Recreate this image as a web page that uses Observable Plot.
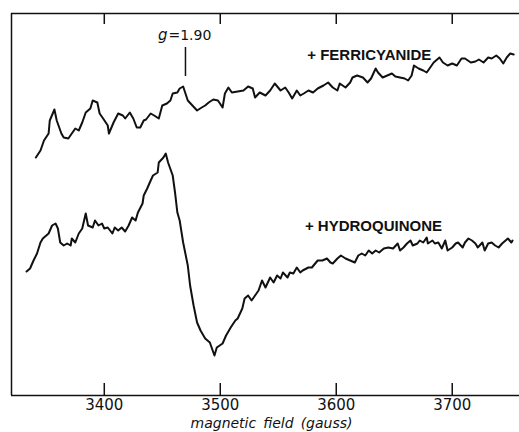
<!DOCTYPE html>
<html>
<head>
<meta charset="utf-8">
<script src="https://cdn.jsdelivr.net/npm/d3@7"></script>
<script src="https://cdn.jsdelivr.net/npm/@observablehq/plot@0.6"></script>
<style>
  body { margin: 0; background: #fff; }
  #chart svg { display: block; background: #fff; }
</style>
</head>
<body>
<div id="chart"></div>
<script>
// EPR derivative spectra (arbitrary signal units) versus magnetic field in gauss
const ferriField = [3341,3345,3348,3352,3353,3357,3359,3363,3365,3369,3372,3375,3378,3381,3384,3388,3390,3394,3396,3399,3403,3404,3408,3412,3416,3418,3422,3425,3428,3431,3434,3436,3440,3443,3447,3450,3454,3457,3459,3463,3465,3468,3472,3476,3480,3484,3487,3490,3494,3498,3502,3504,3507,3510,3515,3520,3524,3528,3530,3534,3539,3543,3547,3552,3556,3559,3562,3566,3569,3572,3576,3580,3584,3589,3593,3597,3601,3603,3608,3612,3614,3618,3623,3627,3630,3634,3636,3640,3644,3648,3651,3655,3659,3662,3665,3667,3671,3675,3678,3681,3684,3689,3692,3696,3700,3704,3708,3711,3716,3720,3723,3727,3731,3734,3738,3741,3744,3747,3750,3753];
const ferriSignal = [238,245,255,262,275,286,275,262,258,257,262,267,265,273,283,287,295,293,282,277,270,262,273,282,280,277,283,277,268,268,275,276,282,280,277,290,292,295,302,303,307,309,295,290,285,288,290,293,296,295,288,302,308,303,304,305,309,307,298,303,300,305,312,305,308,303,297,305,300,302,305,303,307,310,313,308,305,312,308,313,318,320,318,313,317,327,323,318,320,322,319,318,317,315,320,330,327,325,323,328,333,338,333,330,332,330,337,337,333,334,336,333,338,337,340,337,332,338,342,341];

const hydroField = [3333,3336,3339,3342,3345,3347,3352,3355,3358,3360,3362,3365,3368,3371,3372,3375,3378,3381,3384,3386,3390,3392,3395,3398,3400,3403,3407,3409,3412,3415,3418,3421,3424,3427,3429,3433,3434,3437,3440,3442,3446,3447,3451,3453,3455,3459,3461,3463,3465,3468,3472,3474,3477,3480,3483,3487,3491,3495,3497,3502,3505,3509,3513,3515,3519,3521,3524,3527,3530,3533,3536,3539,3543,3546,3549,3552,3554,3558,3560,3563,3566,3569,3571,3576,3579,3584,3588,3592,3595,3597,3601,3604,3608,3612,3616,3619,3622,3625,3628,3631,3634,3637,3641,3645,3649,3653,3655,3658,3661,3664,3666,3670,3672,3675,3678,3679,3683,3685,3688,3691,3694,3696,3700,3703,3705,3709,3711,3714,3717,3720,3722,3726,3728,3731,3734,3737,3740,3743,3746,3748,3751,3752];
const hydroSignal = [124,127,135,142,153,157,162,170,172,167,153,150,152,150,157,153,162,167,182,170,168,175,170,172,167,168,162,168,165,168,164,170,178,175,183,192,200,207,215,220,223,233,238,242,233,220,203,183,175,153,130,110,90,73,65,57,53,40,48,52,60,68,75,77,87,97,100,95,100,105,115,108,118,113,120,117,123,118,123,122,128,123,125,128,128,135,135,137,133,132,137,140,137,135,133,140,142,140,145,142,145,143,147,148,147,152,145,148,152,155,150,152,155,153,158,152,155,152,153,147,155,145,148,152,153,148,153,157,155,152,148,153,145,152,153,150,148,152,155,157,153,155];

const fieldTicks = [3400, 3500, 3600, 3700];
const fieldDomain = [3320, 3758];
const signalDomain = [0, 382];

const g190Field = 3470;
const g190Marker = [319, 348];
const ferriLabel = {field: 3575, signal: 340, text: "+ FERRICYANIDE"};
const hydroLabel = {field: 3573, signal: 169, text: "+ HYDROQUINONE"};
const axisLabel = "magnetic\u2002field\u2002(gauss)";

const ferri = ferriField.map((f, i) => ({field: f, signal: ferriSignal[i]}));
const hydro = hydroField.map((f, i) => ({field: f, signal: hydroSignal[i]}));

const ink = "#111";
const font = "DejaVu Sans, sans-serif";
const labelFont = "Liberation Sans, sans-serif";

const chart = Plot.plot({
  width: 519,
  height: 432,
  marginTop: 13,
  marginBottom: 37,
  marginLeft: 11,
  marginRight: 0,
  style: {background: "#fff", fontFamily: font},
  x: {domain: fieldDomain, axis: null},
  y: {domain: signalDomain, axis: null},
  marks: [
    // open frame: top, bottom and left edges
    Plot.ruleY([signalDomain[1]], {x1: fieldDomain[0], x2: fieldDomain[1], stroke: ink, strokeWidth: 1.5}),
    Plot.ruleY([signalDomain[0]], {x1: fieldDomain[0], x2: fieldDomain[1], stroke: ink, strokeWidth: 1.5}),
    Plot.ruleX([fieldDomain[0]], {y1: signalDomain[0], y2: signalDomain[1], stroke: ink, strokeWidth: 1.5}),
    // inward ticks on bottom and top edges
    Plot.ruleX(fieldTicks, {y1: 0, y2: 12, stroke: ink, strokeWidth: 1.5}),
    Plot.ruleX(fieldTicks, {y1: 371, y2: 382, stroke: ink, strokeWidth: 1.5}),
    // tick labels
    Plot.text(fieldTicks, {x: d => d, y: 0, dy: 10, lineAnchor: "middle", text: d => String(d), fontSize: 15, fill: ink, fontFamily: font}),
    // axis title
    Plot.text([axisLabel], {frameAnchor: "bottom", lineAnchor: "middle", dx: 6, dy: 28, fontSize: 14, fontStyle: "italic", fill: ink, fontFamily: font, text: d => d}),
    // spectra
    Plot.line(ferri, {x: "field", y: "signal", stroke: ink, strokeWidth: 2, strokeLinejoin: "round", strokeLinecap: "round"}),
    Plot.line(hydro, {x: "field", y: "signal", stroke: ink, strokeWidth: 2, strokeLinejoin: "round", strokeLinecap: "round"}),
    // g = 1.90 marker
    Plot.ruleX([g190Field], {y1: g190Marker[0], y2: g190Marker[1], stroke: ink, strokeWidth: 1.5}),
    Plot.text([g190Field], {x: d => d, y: 360, dx: -18, text: () => "g", textAnchor: "end", fontStyle: "italic", fontSize: 15, fill: ink, fontFamily: font}),
    Plot.text([g190Field], {x: d => d, y: 360, dx: -17, text: () => "=1.90", textAnchor: "start", fontSize: 14, fill: ink, fontFamily: font}),
    // trace labels
    Plot.text([ferriLabel], {x: "field", y: "signal", text: "text", textAnchor: "start", fontSize: 15, fontWeight: "bold", fill: ink, fontFamily: labelFont}),
    Plot.text([hydroLabel], {x: "field", y: "signal", text: "text", textAnchor: "start", fontSize: 15, fontWeight: "bold", fill: ink, fontFamily: labelFont})
  ]
});

document.getElementById("chart").append(chart);
</script>
</body>
</html>
